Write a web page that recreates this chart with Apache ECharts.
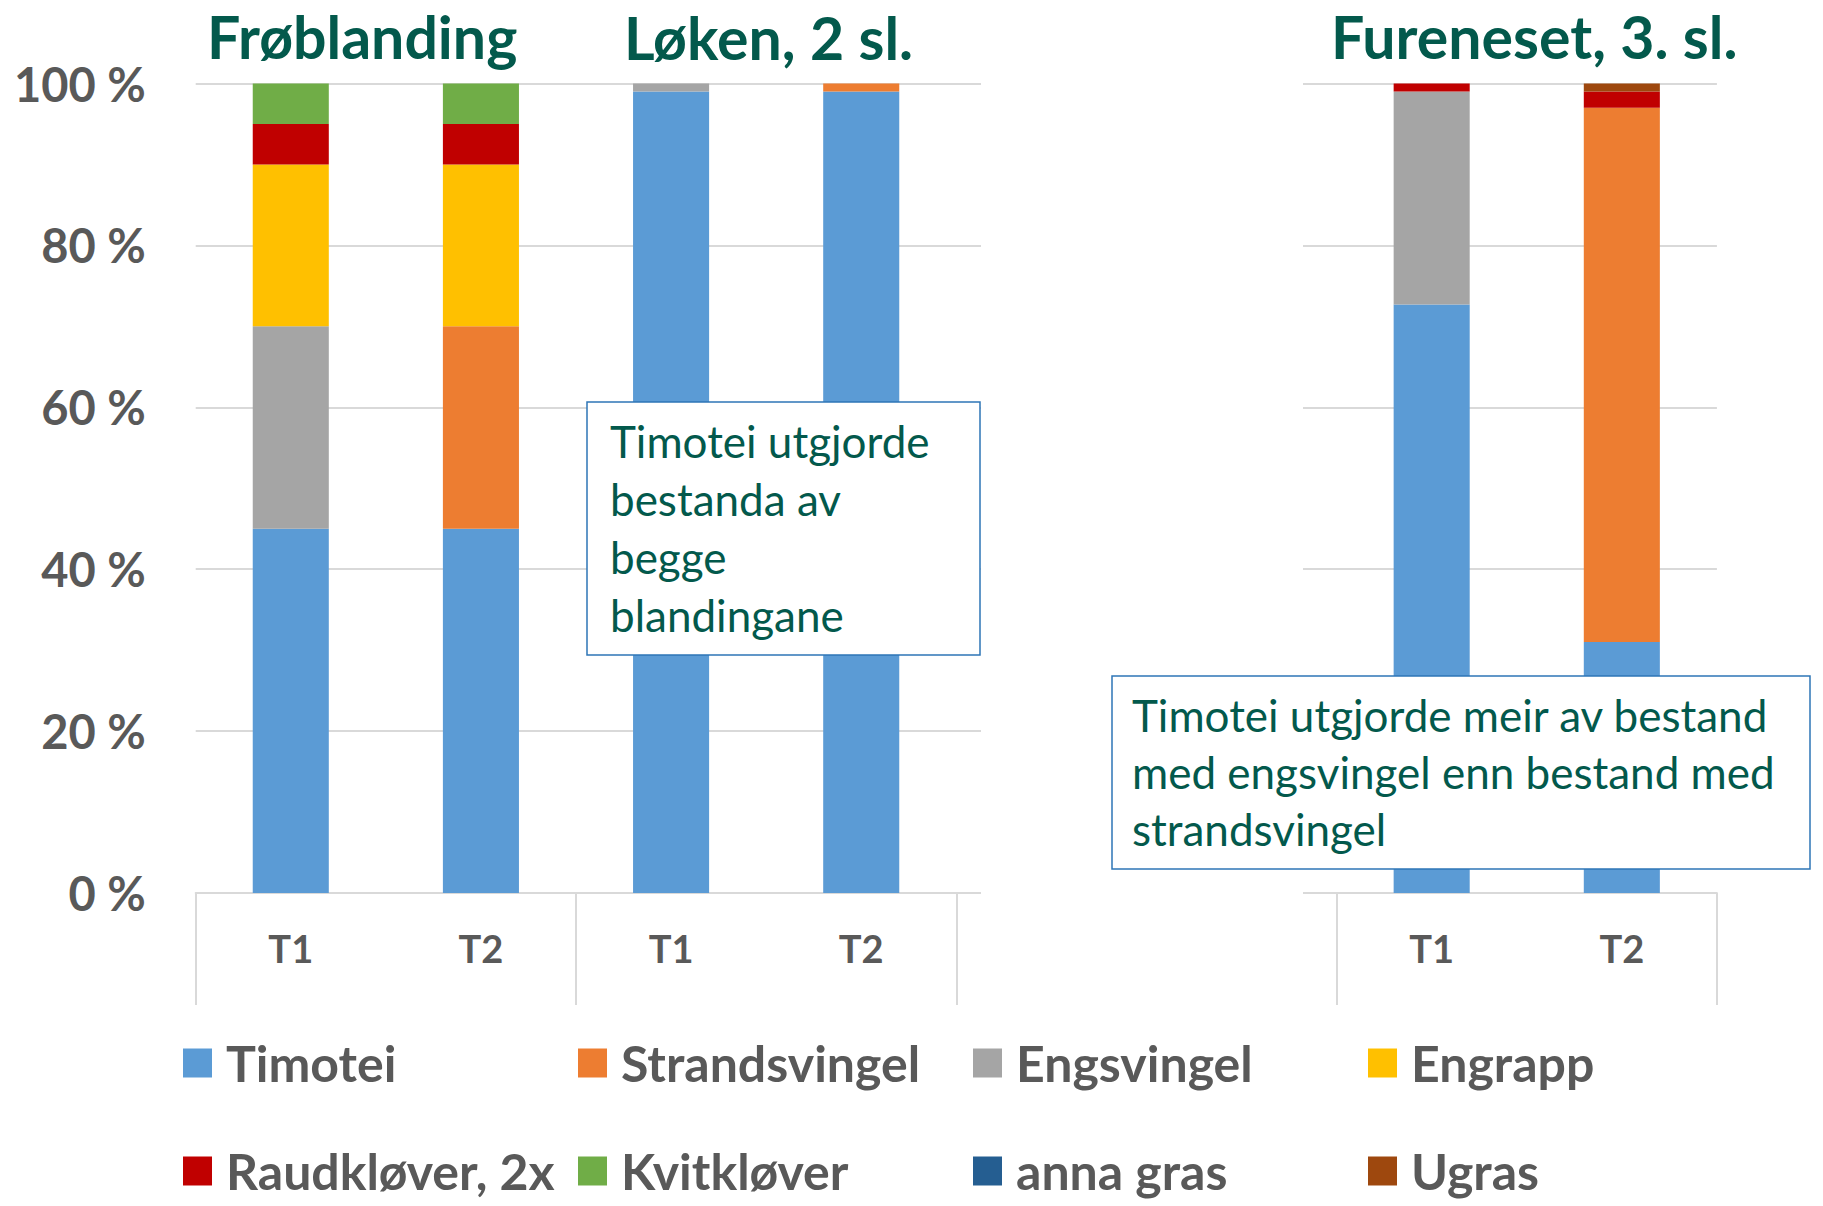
<!DOCTYPE html>
<html>
<head>
<meta charset="utf-8">
<title>Botanisk samansetnad – Løken og Fureneset</title>
<script src="https://cdn.jsdelivr.net/npm/echarts@6/dist/echarts.min.js"></script>
<style>
    html, body { margin: 0; padding: 0; background: #fff; }
    #chart { width: 1823px; height: 1206px; }
</style>
</head>
<body>
<div id="chart"></div>
<script>
// Categories: Løken (T1, T2, T1, T2), two empty slots, Fureneset (T1, T2)
const categories = ['T1', 'T2', 'T1', 'T2', '', '', 'T1', 'T2'];
const groupSlots = ['Frøblanding', 'Løken', '', 'Fureneset'];
const yTicks = [0, 20, 40, 60, 80, 100];

const timotei       = [45, 45, 99, 99, null, null, 72.7, 31];
const strandsvingel = [0, 25, 0, 1, null, null, 0, 66];
const engsvingel    = [25, 0, 1, 0, null, null, 26.3, 0];
const engrapp       = [20, 20, 0, 0, null, null, 0, 0];
const raudklover    = [5, 5, 0, 0, null, null, 1, 2];
const kvitklover    = [5, 5, 0, 0, null, null, 0, 0];
const annaGras      = [0, 0, 0, 0, null, null, 0, 0];
const ugras         = [0, 0, 0, 0, null, null, 0, 1];

const speciesNames = ['Timotei', 'Strandsvingel', 'Engsvingel', 'Engrapp',
                      'Raudkløver, 2x', 'Kvitkløver', 'anna gras', 'Ugras'];
const speciesData = [timotei, strandsvingel, engsvingel, engrapp,
                     raudklover, kvitklover, annaGras, ugras];
const speciesColors = ['#5B9BD5', '#ED7D31', '#A5A5A5', '#FFC000',
                       '#C00000', '#70AD47', '#255E91', '#9E480E'];

const headings = ['Frøblanding', 'Løken, 2 sl.', 'Fureneset, 3. sl.'];
const noteLoken = 'Timotei utgjorde\nbestanda av\nbegge\nblandingane';
const noteFureneset = 'Timotei utgjorde meir av bestand\nmed engsvingel enn bestand med\nstrandsvingel';

const green = '#03594C';
const grey = '#595959';
const line = '#D9D9D9';
const font = 'Lato';

const chart = echarts.init(document.getElementById('chart'), null, { renderer: 'svg' });

const legendBase = {
    left: 183, padding: 0, itemGap: 12, itemWidth: 29, itemHeight: 29,
    icon: 'rect', selectedMode: false,
    textStyle: {
        fontFamily: font, fontWeight: 'bold', fontSize: 50, color: grey,
        width: 340, lineHeight: 40, padding: [0, 0, 0, 9], overflow: 'none'
    }
};

function heading(text, x, y) {
    return {
        type: 'text', z: 5, x, y,
        style: { text, fontFamily: font, fontWeight: 'bold', fontSize: 59, fill: green,
                 align: 'left', textAlign: 'left', verticalAlign: 'middle', textVerticalAlign: 'middle' }
    };
}

function note(text, box, tx, ty, lh) {
    return [
        { type: 'rect', z: 10, shape: box,
          style: { fill: '#fff', stroke: '#2E75B6', lineWidth: 1.5 } },
        { type: 'text', z: 11, x: tx, y: ty,
          style: { text, fontFamily: font, fontSize: 44, lineHeight: lh, fill: green,
                   align: 'left', textAlign: 'left', verticalAlign: 'middle', textVerticalAlign: 'middle' } }
    ];
}

chart.setOption({
    animation: false,
    grid: { left: 195.7, right: 106.1, top: 83.5, bottom: 313, outerBoundsMode: 'none' },
    legend: [
        Object.assign({}, legendBase, { top: 1038, data: speciesNames.slice(0, 4) }),
        Object.assign({}, legendBase, { top: 1146, data: speciesNames.slice(4) })
    ],
    xAxis: [
        {
            type: 'category', data: categories,
            axisLine: { lineStyle: { color: line, width: 2 } },
            axisTick: { show: false },
            axisLabel: {
                interval: 0, margin: 36, lineHeight: 38,
                fontFamily: font, fontWeight: 'bold', fontSize: 38, color: grey
            }
        },
        {
            // group separators below the axis
            type: 'category', data: groupSlots, position: 'bottom',
            axisLine: { show: false },
            axisLabel: { show: false },
            axisTick: { show: true, interval: 0, length: 112, lineStyle: { color: line, width: 2 } }
        }
    ],
    yAxis: {
        type: 'value', min: yTicks[0], max: yTicks[yTicks.length - 1], interval: 20,
        axisLine: { show: false }, axisTick: { show: false },
        axisLabel: {
            formatter: '{value} %', margin: 50,
            fontFamily: font, fontWeight: 'bold', fontSize: 47, color: grey
        },
        splitLine: { lineStyle: { color: line, width: 2 } }
    },
    series: speciesNames.map((name, i) => ({
        name, type: 'bar', stack: 'andel', barWidth: '40%',
        data: speciesData[i],
        itemStyle: { color: speciesColors[i] }
    })),
    graphic: [
        // blank strip between the two parts of the plot
        { type: 'rect', z: 1, silent: true,
          shape: { x: 981, y: 60, width: 322, height: 838 }, style: { fill: '#fff' } },
        heading(headings[0], 207, 36),
        heading(headings[1], 624, 37),
        heading(headings[2], 1331, 36)
    ]
        .concat(note(noteLoken, { x: 587, y: 402, width: 393, height: 253 }, 610, 528, 58))
        .concat(note(noteFureneset, { x: 1112, y: 676, width: 698, height: 193 }, 1132, 772, 57))
});

window.addEventListener('resize', () => chart.resize());
</script>
</body>
</html>
